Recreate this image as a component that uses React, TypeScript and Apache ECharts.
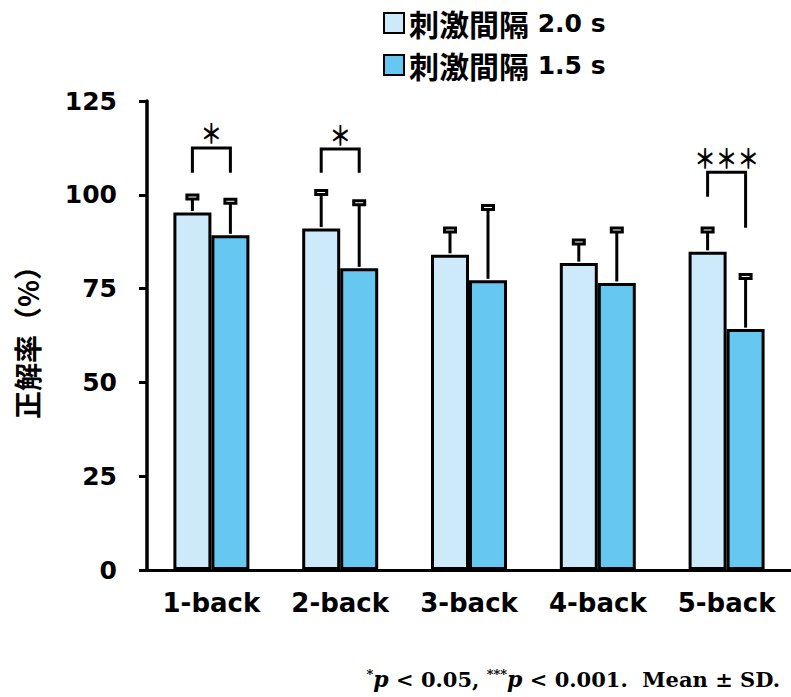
import React, { useEffect, useRef } from 'react';
import * as echarts from 'echarts';

const categories = ['1-back', '2-back', '3-back', '4-back', '5-back'];
const seriesNames = ['刺激間隔 2.0 s', '刺激間隔 1.5 s'];
const mean20 = [95.3, 91.0, 84.0, 81.8, 84.8];
const sd20 = [4.1, 9.6, 6.6, 5.6, 5.8];
const mean15 = [89.2, 80.4, 77.2, 76.5, 64.2];
const sd15 = [9.1, 17.5, 19.4, 14.1, 14.0];
const yTicks = [0, 25, 50, 75, 100, 125];
const sigCategories = [0, 1, 4];
const sigLabels = ['＊', '＊', '＊＊＊'];
const sigTop = [112.5, 112.2, 106.0];
const sigLeftEnd = [105.9, 105.9, 99.5];
const sigRightEnd = [105.9, 105.9, 91.2];

const LIGHT = '#CDEAFA';
const DARK = '#66C8F0';
const GAP = 0.41;
const LATIN = '"DejaVu Sans", "Noto Sans CJK JP", sans-serif';
const CJK = '"Noto Sans CJK JP", "DejaVu Sans", sans-serif';
const SERIF = '"DejaVu Serif", "Liberation Serif", serif';

function errorRender(sign: number) {
  return (params: any, api: any) => {
    const cat = api.value(0);
    const mean = api.value(1);
    const sd = api.value(2);
    const band = api.size([1, 0])[0];
    const off = (band * (1 - GAP)) / 4;
    const base = api.coord([cat, mean]);
    const top = api.coord([cat, mean + sd]);
    const x = base[0] + sign * off;
    return {
      type: 'group',
      children: [
        {
          type: 'line',
          shape: { x1: x, y1: base[1] - 1.5, x2: x, y2: top[1] },
          style: { stroke: '#000', lineWidth: 3 },
        },
        {
          type: 'rect',
          shape: { x: x - 5.5, y: top[1] - 2, width: 11, height: 4 },
          style: { fill: '#fff', stroke: '#000', lineWidth: 3 },
        },
      ],
    };
  };
}

function bracketRender(params: any, api: any) {
  const cat = api.value(0);
  const band = api.size([1, 0])[0];
  const off = (band * (1 - GAP)) / 4;
  const t = api.coord([cat, api.value(1)]);
  const l = api.coord([cat, api.value(2)]);
  const r = api.coord([cat, api.value(3)]);
  const xl = t[0] - off;
  const xr = t[0] + off;
  return {
    type: 'group',
    children: [
      {
        type: 'polyline',
        shape: { points: [[xl, l[1]], [xl, t[1]], [xr, t[1]], [xr, r[1]]] },
        style: { stroke: '#000', lineWidth: 3, fill: 'none' },
      },
      {
        type: 'text',
        x: t[0],
        y: t[1] - 15,
        scaleX: 0.8,
        style: {
          text: sigLabels[params.dataIndex],
          fontSize: 27,
          fontWeight: 'bold',
          fontFamily: CJK,
          fill: '#000',
          align: 'center',
          verticalAlign: 'middle',
        },
      },
    ],
  };
}

export default function App() {
  const ref = useRef<HTMLDivElement>(null);
  useEffect(() => {
    if (!ref.current) return;
    const chart = echarts.init(ref.current, null, { renderer: 'svg' });
    chart.setOption({
      animation: false,
      backgroundColor: '#fff',
      grid: { left: 147, right: 0, top: 101, bottom: 127 },
      legend: {
        orient: 'vertical',
        left: 378,
        top: 3,
        itemWidth: 20,
        itemHeight: 20,
        itemGap: 12,
        icon: 'rect',
        data: seriesNames,
        formatter: (name: string) => {
          const i = name.indexOf(' ');
          return `{c|${name.slice(0, i)}}{l| ${name.slice(i + 1)}}`;
        },
        textStyle: {
          color: '#000',
          lineHeight: 30,
          rich: {
            c: { fontSize: 30, lineHeight: 30, fontWeight: 'bold', fontFamily: CJK, color: '#000' },
            l: { fontSize: 25, lineHeight: 30, fontWeight: 'bold', fontFamily: LATIN, color: '#000' },
          },
        },
      },
      xAxis: {
        type: 'category',
        data: categories,
        axisLine: { lineStyle: { color: '#000', width: 3 } },
        axisTick: { show: false },
        axisLabel: { color: '#000', fontSize: 26, fontWeight: 'bold', fontFamily: LATIN, margin: 20 },
      },
      yAxis: {
        type: 'value',
        min: yTicks[0],
        max: yTicks[yTicks.length - 1],
        interval: yTicks[1] - yTicks[0],
        splitLine: { show: false },
        axisLine: { show: true, lineStyle: { color: '#000', width: 3.5 } },
        axisTick: { show: true, inside: false, length: 8, lineStyle: { color: '#000', width: 3 } },
        axisLabel: { color: '#000', fontSize: 25, fontWeight: 'bold', fontFamily: LATIN, margin: 30 },
        name: '正解率（%）',
        nameLocation: 'middle',
        nameRotate: 90,
        nameGap: 106,
        nameTextStyle: { color: '#000', fontSize: 28, fontWeight: 'bold', fontFamily: CJK },
      },
      series: [
        {
          name: seriesNames[0],
          type: 'bar',
          data: mean20,
          barGap: '0%',
          barCategoryGap: `${GAP * 100}%`,
          itemStyle: { color: LIGHT, borderColor: '#000', borderWidth: 3 },
        },
        {
          name: seriesNames[1],
          type: 'bar',
          data: mean15,
          barGap: '0%',
          barCategoryGap: `${GAP * 100}%`,
          itemStyle: { color: DARK, borderColor: '#000', borderWidth: 3 },
        },
        {
          type: 'custom',
          renderItem: errorRender(-1),
          data: mean20.map((m, i) => [i, m, sd20[i]]),
          encode: { x: 0, y: 1 },
          z: 5,
          silent: true,
        },
        {
          type: 'custom',
          renderItem: errorRender(1),
          data: mean15.map((m, i) => [i, m, sd15[i]]),
          encode: { x: 0, y: 1 },
          z: 5,
          silent: true,
        },
        {
          type: 'custom',
          renderItem: bracketRender,
          data: sigCategories.map((c, i) => [c, sigTop[i], sigLeftEnd[i], sigRightEnd[i]]),
          encode: { x: 0, y: 1 },
          z: 6,
          clip: false,
          silent: true,
        },
      ],
      graphic: [
        {
          type: 'text',
          right: 11,
          top: 668,
          style: {
            text: '{s|*}{i|p}{n| < 0.05, }{s|***}{i|p}{n| < 0.001.  Mean ± SD.}',
            rich: {
              s: { fontSize: 13, fontWeight: 'bold', fontFamily: SERIF, fill: '#000', color: '#000', verticalAlign: 'top', padding: [0, 0, 8, 0] },
              i: { fontSize: 22, fontWeight: 'bold', fontStyle: 'italic', fontFamily: SERIF, fill: '#000', color: '#000' },
              n: { fontSize: 21, fontWeight: 'bold', fontFamily: SERIF, fill: '#000', color: '#000' },
            },
          },
        },
      ],
    });
    return () => chart.dispose();
  }, []);
  return <div ref={ref} style={{ width: 791, height: 697, position: 'absolute', left: 0, top: 0 }} />;
}
